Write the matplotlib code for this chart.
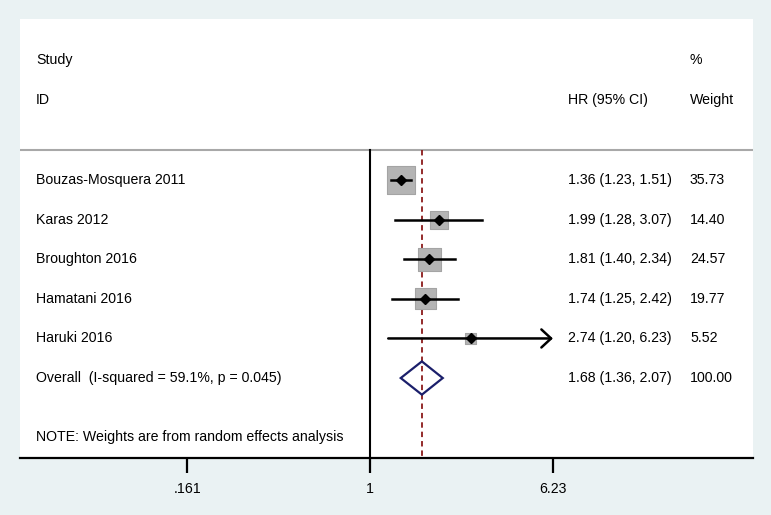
import matplotlib
matplotlib.use('Agg')
import matplotlib.pyplot as plt
import numpy as np

plt.rcParams['font.family'] = ['Liberation Sans', 'DejaVu Sans']

studies = ['Bouzas-Mosquera 2011', 'Karas 2012', 'Broughton 2016', 'Hamatani 2016', 'Haruki 2016']
hr = [1.36, 1.99, 1.81, 1.74, 2.74]
lower = [1.23, 1.28, 1.40, 1.25, 1.20]
upper = [1.51, 3.07, 2.34, 2.42, 6.23]
weight = [35.73, 14.40, 24.57, 19.77, 5.52]

overall_label = 'Overall  (I-squared = 59.1%, p = 0.045)'
overall_hr = 1.68
overall_lo = 1.36
overall_hi = 2.07

tick_vals = [0.161, 1, 6.23]
tick_labels = ['.161', '1', '6.23']
note = 'NOTE: Weights are from random effects analysis'

bg = '#eaf2f3'
fig = plt.figure(figsize=(7.71, 5.15), dpi=100, facecolor=bg)
ax = fig.add_axes([20/771, 57/515, 733/771, 439/515])
ax.set_facecolor('white')

# x in ln(HR), y in rows (0 = first study)
ax.set_xlim(-3.50, 3.83)
ax.set_ylim(7.02, -4.07)

xtxt = -3.34
xhr = 1.98
xw = 3.20
fs = 10.2

ax.text(xtxt, -3.03, 'Study', fontsize=fs, va='center')
ax.text(xtxt, -2.02, 'ID', fontsize=fs, va='center')
ax.text(xhr, -2.02, 'HR (95% CI)', fontsize=fs, va='center')
ax.text(xw, -3.03, '%', fontsize=fs, va='center')
ax.text(xw, -2.02, 'Weight', fontsize=fs, va='center')
ax.axhline(-0.76, color='#a8a8a8', lw=1.5)

rows = np.arange(len(studies))
top = -0.76
bottom = 7.02
ax.plot([0, 0], [top, bottom], color='black', lw=1.5)
ax.plot([np.log(overall_hr)] * 2, [top, bottom], color='#8b1a1a', lw=1.3,
        linestyle=(0, (3, 2.2)))

sides = 4.7 * np.sqrt(weight) * 72 / 100
ax.scatter(np.log(hr), rows, marker='s', s=sides ** 2, facecolor='#b4b4b4',
           edgecolor='#a4a4a4', linewidth=0.8, zorder=2)

for i in rows:
    if i == len(studies) - 1:
        ax.annotate('', xy=(np.log(upper[i]), i), xytext=(np.log(lower[i]), i),
                    arrowprops=dict(arrowstyle='->,head_length=0.7,head_width=0.65',
                                    lw=1.8, color='black', shrinkA=0, shrinkB=0),
                    zorder=3)
    else:
        ax.plot([np.log(lower[i]), np.log(upper[i])], [i, i], color='black', lw=1.8, zorder=3)
    ax.plot(np.log(hr[i]), i, marker='D', color='black', ms=5.5, zorder=4)
    ax.text(xtxt, i, studies[i], fontsize=fs, va='center')
    ax.text(xhr, i, '%.2f (%.2f, %.2f)' % (hr[i], lower[i], upper[i]), fontsize=fs, va='center')
    ax.text(xw, i, '%.2f' % weight[i], fontsize=fs, va='center')

yo = len(studies)
h = 0.42
ax.fill([np.log(overall_lo), np.log(overall_hr), np.log(overall_hi), np.log(overall_hr)],
        [yo, yo - h, yo, yo + h], facecolor='none', edgecolor='#1b1f6b', lw=1.6, zorder=3)
ax.text(xtxt, yo, overall_label, fontsize=fs, va='center')
ax.text(xhr, yo, '%.2f (%.2f, %.2f)' % (overall_hr, overall_lo, overall_hi), fontsize=fs, va='center')
ax.text(xw, yo, '100.00', fontsize=fs, va='center')
ax.text(xtxt, 6.5, note, fontsize=fs, va='center')

for s in ['top', 'left', 'right']:
    ax.spines[s].set_visible(False)
ax.spines['bottom'].set_linewidth(1.6)
ax.set_yticks([])
ax.set_xticks(np.log(tick_vals))
ax.set_xticklabels(tick_labels, fontsize=fs)
ax.tick_params(axis='x', length=11, width=1.6, pad=6)

fig.savefig('out.png', dpi=100, facecolor=bg)
